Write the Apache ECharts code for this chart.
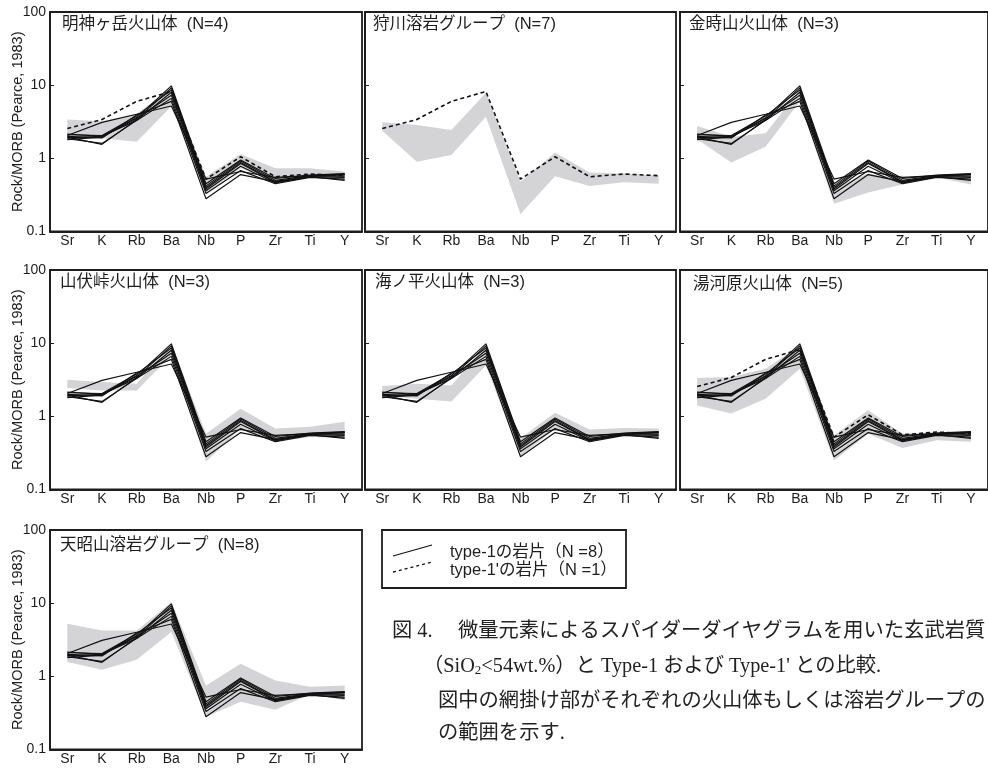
<!DOCTYPE html>
<html>
<head>
<meta charset="utf-8">
<script src="https://cdn.jsdelivr.net/npm/echarts@6/dist/echarts.min.js"></script>
<style>
html, body { margin: 0; padding: 0; background: #fff; }
#chart { width: 988px; height: 771px; }
</style>
</head>
<body>
<div id="chart"></div>
<script>
// Element order of the MORB-normalised spider diagram
const elements = ['Sr', 'K', 'Rb', 'Ba', 'Nb', 'P', 'Zr', 'Ti', 'Y'];
const yTickLabels = ['0.1', '1', '10', '100'];
const yAxisTitle = 'Rock/MORB (Pearce, 1983)';

// Type-1 lithic fragments (N=8), Rock/MORB
const type1S1 = [2.05, 3.1, 4.0, 5.2, 0.52, 0.66, 0.55, 0.58, 0.60];
const type1S2 = [2.15, 2.0, 3.6, 9.8, 0.45, 0.95, 0.53, 0.59, 0.62];
const type1S3 = [1.95, 1.55, 3.4, 9.2, 0.42, 0.92, 0.50, 0.58, 0.61];
const type1S4 = [2.1, 2.05, 3.8, 8.6, 0.40, 0.88, 0.48, 0.57, 0.60];
const type1S5 = [1.85, 1.6, 3.3, 8.0, 0.38, 0.85, 0.47, 0.57, 0.57];
const type1S6 = [1.8, 1.95, 3.5, 7.3, 0.36, 0.78, 0.46, 0.56, 0.55];
const type1S7 = [1.9, 2.0, 3.3, 6.6, 0.33, 0.68, 0.45, 0.55, 0.52];
const type1S8 = [2.0, 1.9, 3.9, 6.0, 0.28, 0.60, 0.48, 0.56, 0.50];
// Type-1' lithic fragment (N=1)
const type1Prime = [2.55, 3.4, 6.0, 8.2, 0.52, 1.05, 0.56, 0.61, 0.58];

// Basalt ranges (SiO2 < 54 wt.%) of each volcanic body / lava group
const myojinMin = [1.82, 1.88, 1.69, 5.1, 0.33, 0.73, 0.48, 0.56, 0.50];
const myojinMax = [3.4, 3.2, 4.1, 9.1, 0.56, 1.15, 0.73, 0.73, 0.66];
const karikawaMin = [2.39, 0.90, 1.11, 3.7, 0.173, 0.57, 0.42, 0.47, 0.45];
const karikawaMax = [3.11, 2.86, 2.44, 7.9, 0.48, 1.2, 0.64, 0.62, 0.58];
const kintokiMin = [1.82, 0.88, 1.44, 6.0, 0.24, 0.34, 0.44, 0.55, 0.44];
const kintokiMax = [2.77, 1.98, 2.2, 8.6, 0.41, 0.62, 0.50, 0.59, 0.53];
const yamabushiMin = [2.43, 2.26, 2.26, 6.8, 0.24, 0.68, 0.45, 0.52, 0.50];
const yamabushiMax = [3.16, 2.94, 2.79, 9.8, 0.58, 1.27, 0.68, 0.72, 0.84];
const uminotairaMin = [1.93, 1.74, 1.6, 4.96, 0.28, 0.68, 0.47, 0.54, 0.51];
const uminotairaMax = [2.59, 2.79, 2.64, 9.3, 0.50, 1.12, 0.66, 0.69, 0.68];
const yugawaraMin = [1.41, 1.09, 1.74, 4.47, 0.25, 0.58, 0.37, 0.47, 0.45];
const yugawaraMax = [3.33, 3.44, 4.47, 9.3, 0.55, 1.21, 0.58, 0.61, 0.62];
const tenshozanMin = [1.57, 1.23, 1.69, 4.02, 0.28, 0.45, 0.35, 0.57, 0.47];
const tenshozanMax = [5.23, 4.24, 4.24, 10.3, 0.75, 1.49, 0.88, 0.72, 0.75];

const panelNames = [
  '明神ヶ岳火山体  (N=4)',
  '狩川溶岩グループ  (N=7)',
  '金時山火山体  (N=3)',
  '山伏峠火山体  (N=3)',
  '海ノ平火山体  (N=3)',
  '湯河原火山体  (N=5)',
  '天昭山溶岩グループ  (N=8)'
];
const legendLabels = ['type-1の岩片（N =8）', "type-1'の岩片（N =1）"];
const captionLines = [
  '図 4.　 微量元素によるスパイダーダイヤグラムを用いた玄武岩質',
  '（SiO{sub|2}<54wt.%）と Type-1 および Type-1\' との比較.',
  '図中の網掛け部がそれぞれの火山体もしくは溶岩グループの',
  'の範囲を示す.'
];

const type1Lines = [type1S1, type1S2, type1S3, type1S4, type1S5, type1S6, type1S7, type1S8];
const panelRanges = [
  [myojinMin, myojinMax],
  [karikawaMin, karikawaMax],
  [kintokiMin, kintokiMax],
  [yamabushiMin, yamabushiMax],
  [uminotairaMin, uminotairaMax],
  [yugawaraMin, yugawaraMax],
  [tenshozanMin, tenshozanMax]
];
const showType1 = [true, false, true, true, true, true, true];
const showPrime = [true, true, false, false, false, true, false];

// ---- layout ----
const SANS = "'Liberation Sans', 'Noto Sans CJK JP', sans-serif";
const SERIF = "'Liberation Serif', 'Noto Sans CJK JP', serif";
const INK = '#1e1e1e';
const colLeft = [50, 365, 680];
const colWidth = [312, 311, 312];
const rowTop = [12, 270, 530];
const plotHeight = 219.5;
const panelCell = [[0, 0], [0, 1], [0, 2], [1, 0], [1, 1], [1, 2], [2, 0]];
const titleX = [62, 373, 689, 60, 375, 693, 60];
const titleY = [25.3, 25.3, 25.3, 284, 284, 286, 546.5];

const grids = [], xAxes = [], yAxes = [], series = [], graphics = [];

panelCell.forEach(([r, c], k) => {
  grids.push({
    left: colLeft[c], top: rowTop[r], width: colWidth[c], height: plotHeight,
    show: true, borderColor: INK, borderWidth: 1.8, backgroundColor: 'transparent'
  });
  xAxes.push({
    gridIndex: k, type: 'category', data: elements, boundaryGap: true,
    axisLine: { lineStyle: { color: INK, width: 1.8 } },
    axisTick: { inside: true, alignWithLabel: true, length: 4, lineStyle: { color: INK, width: 1 } },
    axisLabel: { color: INK, fontSize: 14, fontFamily: SANS, margin: 3, interval: 0 },
    splitLine: { show: false }
  });
  yAxes.push({
    gridIndex: k, type: 'log', logBase: 10, min: 0.1, max: 100,
    name: c === 0 ? yAxisTitle : '',
    nameLocation: 'middle', nameGap: 25, nameMoveOverlap: false,
    nameTextStyle: { color: INK, fontSize: 14.5, fontFamily: SANS },
    axisLine: { show: true, lineStyle: { color: INK, width: 1.8 } },
    axisTick: { show: true, inside: true, length: 4, lineStyle: { color: INK, width: 1 } },
    minorTick: { show: false },
    axisLabel: {
      show: c === 0, color: INK, fontSize: 14, fontFamily: SANS, margin: 4,
      formatter: v => yTickLabels[Math.round(Math.log10(v)) + 1]
    },
    splitLine: { show: false }
  });

  // shaded range polygon
  const [lo, hi] = panelRanges[k];
  series.push({
    type: 'custom', xAxisIndex: k, yAxisIndex: k, silent: true, z: 1, clip: true,
    data: [[0, 1]],
    renderItem: (params, api) => {
      const pts = [];
      hi.forEach((v, i) => pts.push(api.coord([i, v])));
      for (let i = lo.length - 1; i >= 0; i--) pts.push(api.coord([i, lo[i]]));
      return { type: 'polygon', shape: { points: pts }, style: { fill: '#d4d4d6' } };
    }
  });

  if (showType1[k]) {
    type1Lines.forEach(vals => series.push({
      type: 'line', xAxisIndex: k, yAxisIndex: k, data: vals, symbol: 'none',
      silent: true, z: 3, lineStyle: { color: '#111', width: 1.15 }
    }));
  }
  if (showPrime[k]) {
    series.push({
      type: 'line', xAxisIndex: k, yAxisIndex: k, data: type1Prime, symbol: 'none',
      silent: true, z: 4, lineStyle: { color: '#111', width: 1.6, type: [4, 3] }
    });
  }

  graphics.push({
    type: 'text', left: titleX[k], top: titleY[k] - 9.5, z: 10,
    style: { text: panelNames[k], font: '16.5px ' + SANS, fill: INK }
  });
});

// legend box
graphics.push({
  type: 'rect', shape: { x: 382, y: 530, width: 244, height: 58 },
  style: { fill: '#fff', stroke: INK, lineWidth: 1.8 }, z: 10
});
graphics.push({
  type: 'line', shape: { x1: 393, y1: 556, x2: 432, y2: 545 },
  style: { stroke: '#111', lineWidth: 1.1 }, z: 11
});
graphics.push({
  type: 'line', shape: { x1: 393, y1: 572, x2: 432, y2: 562 },
  style: { stroke: '#111', lineWidth: 1.3, lineDash: [3, 3] }, z: 11
});
legendLabels.forEach((t, i) => graphics.push({
  type: 'text', z: 11,
  style: { text: t, x: 450, y: 552 + i * 18, font: '16.5px ' + SANS, fill: INK, verticalAlign: 'middle' }
}));

// figure caption
const captionX = [392, 423, 438, 438];
const captionY = [632, 667, 701.5, 734];
captionLines.forEach((t, i) => graphics.push({
  type: 'text', z: 11,
  style: {
    text: t, x: captionX[i], y: captionY[i], fill: '#222', verticalAlign: 'middle',
    font: '20.3px ' + SERIF,
    rich: { sub: { fontSize: 13, fontFamily: SERIF, fill: '#222', verticalAlign: 'bottom', padding: [8, 0, 0, 0] } }
  }
}));

const chart = echarts.init(document.getElementById('chart'), null, { renderer: 'canvas' });
chart.setOption({
  animation: false,
  backgroundColor: '#fff',
  grid: grids,
  xAxis: xAxes,
  yAxis: yAxes,
  series: series,
  graphic: graphics
});
</script>
</body>
</html>
